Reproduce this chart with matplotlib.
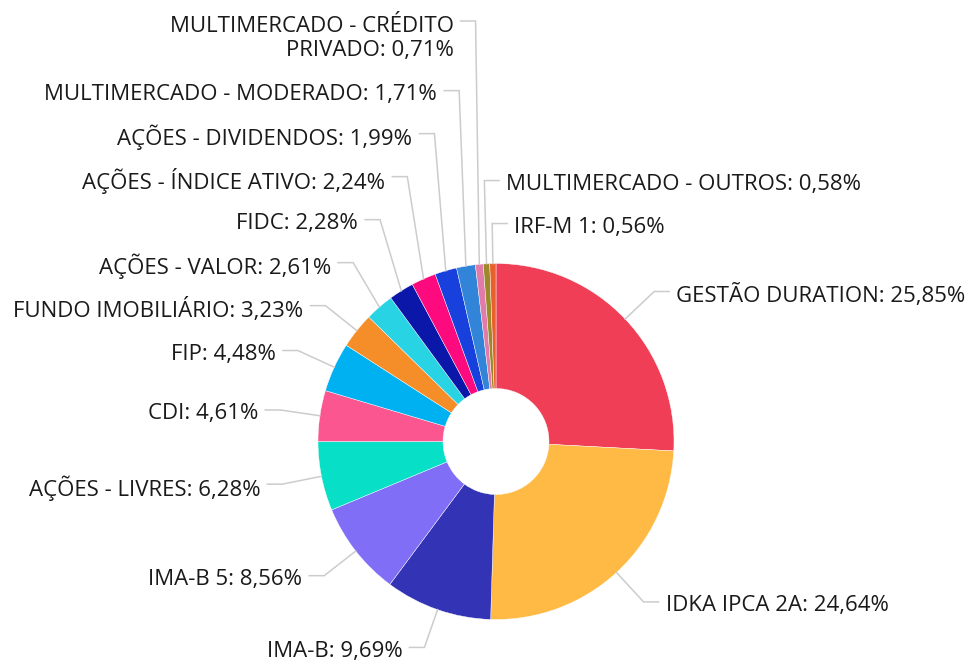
import textwrap
import numpy as np
import matplotlib.pyplot as plt

# dados
categorias = ['GESTÃO DURATION', 'IDKA IPCA 2A', 'IMA-B', 'IMA-B 5', 'AÇÕES - LIVRES', 'CDI', 'FIP',
              'FUNDO IMOBILIÁRIO', 'AÇÕES - VALOR', 'FIDC', 'AÇÕES - ÍNDICE ATIVO', 'AÇÕES - DIVIDENDOS',
              'MULTIMERCADO - MODERADO', 'MULTIMERCADO - CRÉDITO PRIVADO', 'MULTIMERCADO - OUTROS', 'IRF-M 1']
percentuais = [25.85, 24.64, 9.69, 8.56, 6.28, 4.61, 4.48, 3.23, 2.61, 2.28, 2.24, 1.99, 1.71, 0.71, 0.58, 0.56]
cores = ['#EF3E56', '#FFBA46', '#3333B5', '#806EF7', '#07E0C6', '#FB5690', '#00B1F1', '#F58D28',
         '#28D4E4', '#0A17A9', '#FC0A7E', '#1840DD', '#3284D8', '#E07BAA', '#9C8A2A', '#E8602C']
lado_direito = [True, True, False, False, False, False, False, False, False, False, False, False,
                False, False, True, True]

W, H = 967, 664
fig = plt.figure(figsize=(W / 100, H / 100), dpi=100)
ax = fig.add_axes([0, 0, 1, 1])

cx, cy = 496, H - 441.5
r_ext, r_int = 178, 53
r_cot = 218       # fim do primeiro segmento da linha
len2 = 15         # segmento horizontal
folga = 7
dist_min = 43     # espaco minimo entre rotulos
fs = 16
lh = fs * 1.2 * 100 / 72

ax.pie(percentuais, colors=cores, startangle=90, counterclock=False, radius=r_ext, center=(cx, cy),
       wedgeprops=dict(width=r_ext - r_int, edgecolor='white', linewidth=0.3))
ax.set_xlim(0, W)
ax.set_ylim(0, H)
ax.set_aspect('equal')
ax.axis('off')

# angulo medio de cada fatia (graus, sentido horario a partir do topo)
total = sum(percentuais)
acum = np.cumsum(percentuais) - np.array(percentuais) / 2
theta = np.radians(acum / total * 360)


def rotulo(c, p):
    t = f"{c}: {p:.2f}%".replace('.', ',')
    return textwrap.fill(t, 24) if len(t) > 32 else t


textos = [rotulo(c, p) for c, p in zip(categorias, percentuais)]
nlinhas = [t.count('\n') + 1 for t in textos]

y_nat = cy + r_cot * np.cos(theta)
y_lab = y_nat.copy()

# evitar sobreposicao: de baixo para cima em cada lado
esq = [i for i in range(len(textos)) if not lado_direito[i]]
esq.sort(key=lambda i: theta[i])
dir_ = [i for i in range(len(textos)) if lado_direito[i]]
dir_.sort(key=lambda i: -(np.degrees(theta[i]) if np.degrees(theta[i]) < 180 else np.degrees(theta[i]) - 360))
for grupo in (esq, dir_):
    prev = None
    for i in grupo:
        if prev is not None:
            y_lab[i] = max(y_nat[i], prev + dist_min + (nlinhas[i] - 1) * lh)
        prev = y_lab[i]

for i in range(len(textos)):
    x0 = cx + r_ext * np.sin(theta[i])
    y0 = cy + r_ext * np.cos(theta[i])
    x1 = cx + r_cot * np.sin(theta[i])
    y1 = y_lab[i]
    s = 1 if lado_direito[i] else -1
    x2 = x1 + s * len2
    ax.plot([x0, x1, x2], [y0, y1, y1], color='#CCCCCC', lw=1.1, solid_joinstyle='miter')
    yt = y1 - 4 - (nlinhas[i] - 1) * lh / 2
    ax.text(x2 + s * folga, yt, textos[i], ha='left' if s > 0 else 'right', va='center',
            multialignment='right', fontsize=fs, family='Open Sans', color='#1A1A1A')

fig.savefig('out.png', dpi=100)
